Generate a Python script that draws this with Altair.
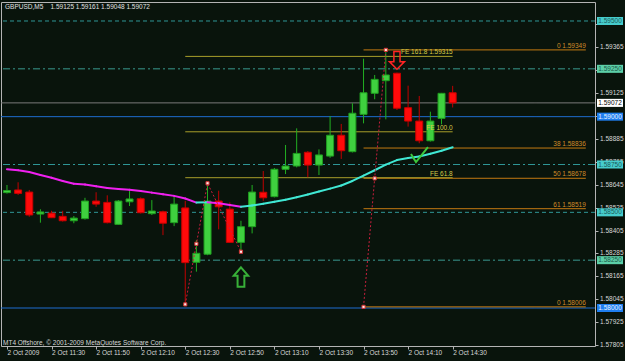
import json
import altair as alt
import pandas as pd

# ---------------- data ----------------
times = ["11:10", "11:15", "11:20", "11:25", "11:30", "11:35", "11:40", "11:45", "11:50", "11:55",
         "12:00", "12:05", "12:10", "12:15", "12:20", "12:25", "12:30", "12:35", "12:40", "12:45",
         "12:50", "12:55", "13:00", "13:05", "13:10", "13:15", "13:20", "13:25", "13:30", "13:35",
         "13:40", "13:45", "13:50", "13:55", "14:00", "14:05", "14:10", "14:15", "14:20", "14:25", "14:30"]
opens = [1.58603, 1.58617, 1.58606, 1.58491, 1.58496, 1.58479, 1.58456, 1.58467, 1.58559, 1.58552,
         1.58437, 1.58555, 1.58571, 1.58493, 1.58503, 1.58446, 1.58523, 1.58239, 1.58281, 1.58559,
         1.58517, 1.58343, 1.58425, 1.58605, 1.58582, 1.58725, 1.58742, 1.58814, 1.58747, 1.58794,
         1.58903, 1.58817, 1.59012, 1.59122, 1.59188, 1.59227, 1.59047, 1.58977, 1.58874, 1.58991, 1.59125]
highs = [1.58643, 1.58657, 1.58617, 1.58516, 1.58508, 1.58508, 1.58481, 1.58576, 1.58605, 1.58589,
         1.58564, 1.58611, 1.58578, 1.58564, 1.58509, 1.58582, 1.58560, 1.58355, 1.58652, 1.58613,
         1.58552, 1.58456, 1.58643, 1.58716, 1.58732, 1.58852, 1.58939, 1.58820, 1.58829, 1.59003,
         1.58962, 1.59070, 1.59303, 1.59218, 1.59349, 1.59230, 1.59162, 1.59108, 1.59026, 1.59124, 1.59161]
lows = [1.58598, 1.58591, 1.58477, 1.58446, 1.58470, 1.58452, 1.58443, 1.58462, 1.58529, 1.58442,
        1.58434, 1.58533, 1.58494, 1.58486, 1.58381, 1.58428, 1.58019, 1.58190, 1.58276, 1.58411,
        1.58340, 1.58294, 1.58390, 1.58560, 1.58578, 1.58700, 1.58735, 1.58683, 1.58695, 1.58785,
        1.58779, 1.58813, 1.58965, 1.59091, 1.58986, 1.59035, 1.58948, 1.58861, 1.58870, 1.58960, 1.59048]
closes = [1.58614, 1.58599, 1.58486, 1.58502, 1.58472, 1.58456, 1.58470, 1.58559, 1.58543, 1.58446,
          1.58559, 1.58570, 1.58498, 1.58507, 1.58443, 1.58543, 1.58237, 1.58286, 1.58559, 1.58529,
          1.58343, 1.58425, 1.58606, 1.58576, 1.58725, 1.58742, 1.58808, 1.58747, 1.58800, 1.58903,
          1.58822, 1.59018, 1.59125, 1.59195, 1.59218, 1.59044, 1.58977, 1.58874, 1.58977, 1.59122, 1.59072]
ma_values = [1.58725, 1.58720, 1.58711, 1.58695, 1.58681, 1.58664, 1.58649, 1.58645, 1.58636, 1.58627,
             1.58622, 1.58618, 1.58611, 1.58603, 1.58594, 1.58586, 1.58572, 1.58551, 1.58553, 1.58547,
             1.58538, 1.58529, 1.58536, 1.58545, 1.58555, 1.58566, 1.58579, 1.58593, 1.58609, 1.58624,
             1.58640, 1.58664, 1.58692, 1.58720, 1.58749, 1.58773, 1.58784, 1.58792, 1.58806, 1.58822, 1.58840]

x_tick_values = [0, 4, 8, 12, 16, 20, 24, 28, 32, 36, 40]
x_tick_labels = ["2 Oct 2009", "2 Oct 11:30", "2 Oct 11:50", "2 Oct 12:10", "2 Oct 12:30", "2 Oct 12:50",
                 "2 Oct 13:10", "2 Oct 13:30", "2 Oct 13:50", "2 Oct 14:10", "2 Oct 14:30"]
y_tick_values = [1.57805, 1.57925, 1.58045, 1.58165, 1.58285, 1.58405, 1.58525, 1.58645, 1.58765,
                 1.58885, 1.59005, 1.59125, 1.59245, 1.59365, 1.59485]
# price-scale labels that are not hidden under the level boxes
y_label_values = [1.57805, 1.57925, 1.58045, 1.58165, 1.58285, 1.58405, 1.58525, 1.58645, 1.58765,
                  1.58885, 1.59125, 1.59365]

level_prices = [1.59500, 1.59250, 1.59072, 1.59000, 1.58750, 1.58500, 1.58250, 1.58000]
level_styles = ["dash", "dashdot", "solid", "solid", "dashdot", "dash", "dashdot", "solid"]
level_colors = ["#2f9696", "#3a9a90", "#7a7a7a", "#1e6cd0", "#2f9696", "#2f9696", "#3a9a90", "#1e6cd0"]
box_bg = ["#46cccc", "#5ccfa8", "#ffffff", "#1f7ef0", "#46cccc", "#46cccc", "#5ccfa8", "#1f7ef0"]
box_fg = ["#1c5a5a", "#1c5a48", "#000000", "#e6f2ff", "#1c5a5a", "#1c5a5a", "#1c5a48", "#e6f2ff"]

fib_prices = [1.59349, 1.58836, 1.58678, 1.58519, 1.58006]
fib_labels = ["0  1.59349", "38  1.58836", "50  1.58678", "61  1.58519", "0  1.58006"]
fib_start, fib_end = 32, 51.95

fe_prices = [1.58681, 1.58921, 1.59315]
fe_labels = ["FE 61.8", "FE 100.0", "FE 161.8 1.59315"]
fe_start, fe_end = 16, 40

zz_group = ["fe", "fe", "fe", "fib", "fib"]
zz_index = [16, 18, 21, 32, 34]
zz_price = [1.58019, 1.58652, 1.58294, 1.58006, 1.59349]
handle_index = [16, 17, 18, 21, 32, 33, 34]
handle_price = [1.58019, 1.583355, 1.58652, 1.58294, 1.58006, 1.586775, 1.59349]

arrow_down = (35, 1.59294)
arrow_up = (21, 1.58162)
check_mark = (37.02, 1.58802)

header = "GBPUSD,M5\u00a0\u00a0\u00a0 1.59125 1.59161 1.59048 1.59072"
copyright_txt = "MT4 Offshore, \u00a9 2001-2009 MetaQuotes Software Corp."

# ---------------- styling ----------------
BG = "#09140c"
FONT = "Liberation Sans"
FS = 6.5
xs = alt.Scale(domain=[-0.088, 52.325], nice=False, zero=False)
ys = alt.Scale(domain=[1.578014, 1.595993], nice=False, zero=False)

n = len(times)
bars = pd.DataFrame({"i": list(range(n)), "time": times, "open": opens, "high": highs,
                     "low": lows, "close": closes})
up = bars["close"] >= bars["open"]
bars["fill"] = ["#3fd03f" if u else "#ff0a0a" for u in up]
bars["stroke"] = ["#1f9e1f" if u else "#c80000" for u in up]
bars["wick"] = ["#22b022" if u else "#c00000" for u in up]

ma_df = pd.DataFrame({
    "i": list(range(n - 1)),
    "i2": [k + 1 for k in range(n - 1)],
    "m": ma_values[:-1],
    "m2": ma_values[1:],
})
ma_df["color"] = ["#40e8d4" if b > a else "#f020f0" for a, b in zip(ma_values[:-1], ma_values[1:])]

levels = pd.DataFrame({"price": level_prices, "style": level_styles, "color": level_colors,
                       "bg": box_bg, "fg": box_fg})
levels["label"] = [f"{p:.5f}" for p in level_prices]

ylab_df = pd.DataFrame({"v": y_label_values, "t": [f"{v:.5f}" for v in y_label_values]})

fib_df = pd.DataFrame({"price": fib_prices, "label": fib_labels, "x1": fib_start, "x2": fib_end})
fe_df = pd.DataFrame({"price": fe_prices, "label": fe_labels, "x1": fe_start, "x2": fe_end})
zz_df = pd.DataFrame({"grp": zz_group, "i": zz_index, "price": zz_price,
                      "k": list(range(len(zz_index)))})
hd_df = pd.DataFrame({"i": handle_index, "price": handle_price})

x_axis = alt.Axis(values=x_tick_values,
                  labelExpr=json.dumps(x_tick_labels) + "[round(datum.value/4)]",
                  labelAlign="left", labelBaseline="top", labelFont=FONT, labelFontSize=FS,
                  labelColor="#d8d8d8", tickColor="#b4b4b4", tickSize=3, labelPadding=0.5,
                  labelFlush=False, labelOverlap=False, domain=False, grid=False, title=None,
                  orient="bottom")
y_axis = alt.Axis(orient="right", values=y_tick_values, labels=False,
                  tickColor="#b4b4b4", tickSize=3, domain=False, grid=False, title=None)


def X(field):
    return alt.X(field, scale=xs, axis=x_axis)


def Y(field):
    return alt.Y(field, scale=ys, axis=y_axis)


# ---------------- layers ----------------
axes_layer = alt.Chart(bars).mark_point(opacity=0, size=1).encode(x=X("i:Q"), y=Y("close:Q"))

level_rules = alt.Chart(levels).mark_rule(strokeWidth=1).encode(
    y=Y("price:Q"),
    color=alt.Color("color:N", scale=None),
    strokeDash=alt.StrokeDash("style:N", legend=None,
                              scale=alt.Scale(domain=["dash", "dashdot", "solid"],
                                              range=[[4, 3], [7, 3, 2, 3], [1, 0]])),
)

fib_rules = alt.Chart(fib_df).mark_rule(strokeWidth=1, color="#c47a12").encode(
    x=X("x1:Q"), x2="x2:Q", y=Y("price:Q"))
fe_rules = alt.Chart(fe_df).mark_rule(strokeWidth=1, color="#a89e2a").encode(
    x=X("x1:Q"), x2="x2:Q", y=Y("price:Q"))

ma_rules = alt.Chart(ma_df).mark_rule(strokeWidth=2, strokeCap="round", clip=True).encode(
    x=X("i:Q"), x2="i2:Q", y=Y("m:Q"), y2="m2:Q",
    color=alt.Color("color:N", scale=None),
)

wicks = alt.Chart(bars).mark_rule(strokeWidth=1, clip=True).encode(
    x=X("i:Q"), y=Y("low:Q"), y2="high:Q",
    color=alt.Color("wick:N", scale=None),
)
bodies = alt.Chart(bars).mark_bar(size=7, strokeWidth=1, clip=True).encode(
    x=X("i:Q"), y=Y("open:Q"), y2="close:Q",
    fill=alt.Fill("fill:N", scale=None),
    stroke=alt.Stroke("stroke:N", scale=None),
)

zz_lines = alt.Chart(zz_df).mark_line(strokeWidth=1, strokeDash=[2, 2], color="#c81e3c").encode(
    x=X("i:Q"), y=Y("price:Q"), detail="grp:N", order="k:Q")
handles = alt.Chart(hd_df).mark_square(size=10, filled=True, fill="#ffe6e6", stroke="#d03030",
                                       strokeWidth=1, opacity=1).encode(
    x=X("i:Q"), y=Y("price:Q"))

down_df = pd.DataFrame({"i": [arrow_down[0]], "price": [arrow_down[1]]})
up_df = pd.DataFrame({"i": [arrow_up[0]], "price": [arrow_up[1]]})
ck_df = pd.DataFrame({"i": [check_mark[0]], "price": [check_mark[1]]})

down_arrow = alt.Chart(down_df).mark_point(
    shape="M -0.35 -1 L 0.35 -1 L 0.35 0.14 L 0.85 0.14 L 0 1 L -0.85 0.14 L -0.35 0.14 Z",
    size=310, filled=False, color="#ff2424", strokeWidth=1.5, opacity=1).encode(
    x=X("i:Q"), y=Y("price:Q"))
up_arrow = alt.Chart(up_df).mark_point(
    shape="M 0 -1 L 0.75 -0.13 L 0.35 -0.13 L 0.35 1 L -0.35 1 L -0.35 -0.13 L -0.75 -0.13 Z",
    size=376, filled=False, color="#38b038", strokeWidth=2, opacity=1).encode(
    x=X("i:Q"), y=Y("price:Q"))
check = alt.Chart(ck_df).mark_point(
    shape="M -1 -0.06 L -0.41 0.88 L 1 -0.88",
    size=289, filled=False, color="#3cc83c", strokeWidth=2, opacity=1).encode(
    x=X("i:Q"), y=Y("price:Q"))

fib_text = alt.Chart(fib_df).mark_text(align="right", baseline="alphabetic", dy=-2, font=FONT,
                                       fontSize=FS, color="#d08c2a").encode(
    x=X("x2:Q"), y=Y("price:Q"), text="label:N")
fe_text = alt.Chart(fe_df).mark_text(align="right", baseline="alphabetic", dy=-2, font=FONT,
                                     fontSize=FS, color="#d6ca48").encode(
    x=X("x2:Q"), y=Y("price:Q"), text="label:N")

# right price scale labels (drawn as text so that the level boxes can cover them)
ylabels = alt.Chart(ylab_df).mark_text(align="left", baseline="middle", font=FONT,
                                       fontSize=FS, color="#d8d8d8").encode(
    x=alt.value(599), y=Y("v:Q"), text="t:N")

boxes = alt.Chart(levels).transform_calculate(
    top="datum.price + 0.00021", bot="datum.price - 0.00021"
).mark_rect().encode(
    x=alt.value(596), x2=alt.value(622),
    y=Y("top:Q"), y2="bot:Q",
    fill=alt.Fill("bg:N", scale=None),
)
box_text = alt.Chart(levels).mark_text(align="center", baseline="middle", font=FONT,
                                       fontSize=FS).encode(
    x=alt.value(609),
    y=Y("price:Q"),
    text="label:N", color=alt.Color("fg:N", scale=None))

hdr = alt.Chart(pd.DataFrame({"t": [header]})).mark_text(
    align="left", baseline="middle", font=FONT, fontSize=FS, color="#e0e0e0").encode(
    x=alt.value(4), y=alt.value(5), text="t:N")
copy_txt = alt.Chart(pd.DataFrame({"t": [copyright_txt]})).mark_text(
    align="left", baseline="middle", font=FONT, fontSize=FS, color="#d8d8d8").encode(
    x=alt.value(2), y=alt.value(340.5), text="t:N")

chart = alt.layer(
    axes_layer, level_rules, fib_rules, fe_rules, wicks, bodies, ma_rules, zz_lines, handles,
    down_arrow, up_arrow, check, fib_text, fe_text, ylabels, boxes, box_text, hdr, copy_txt
).properties(
    width=594, height=344,
    padding={"left": 1, "top": 2, "right": 30, "bottom": 15},
    autosize=alt.AutoSizeParams(type="none"),
).configure(background=BG).configure_view(stroke="#b4b4b4", strokeWidth=1, fill=BG)

chart.save("out.html", embed_options={"renderer": "svg", "actions": False})
